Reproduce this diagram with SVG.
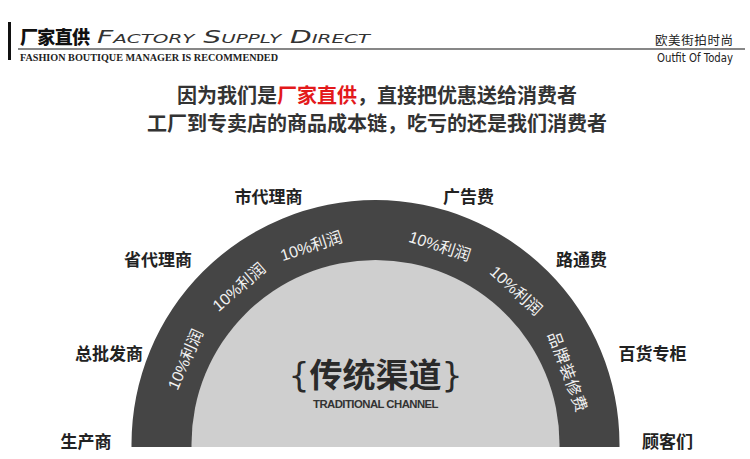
<svg xmlns="http://www.w3.org/2000/svg" width="750" height="459" viewBox="0 0 750 459">
<style>
.cjk{font-family:"Noto Sans CJK SC","Noto Sans",sans-serif}
.lab{font-family:"Noto Sans CJK SC",sans-serif;font-size:17px;font-weight:700;fill:#222;text-anchor:middle;dominant-baseline:central}
.arc{font-family:"Liberation Sans","Noto Sans CJK SC",sans-serif;font-size:16px;fill:#f2f2f2;text-anchor:middle;dominant-baseline:central}
.head{font-family:"Noto Sans CJK SC",sans-serif;font-size:20px;font-weight:700;fill:#333;text-anchor:middle}
</style>
<rect width="750" height="459" fill="#fff"/>
<g id="header">
<rect x="8" y="22" width="3" height="38" fill="#111"/>
<line x1="18" y1="49" x2="745" y2="49" stroke="#111" stroke-width="1.2"/>
<text x="20" y="44" class="cjk" font-size="18" font-weight="900" fill="#111" textLength="70">厂家直供</text>
<text x="97" y="43" font-family="DejaVu Sans,sans-serif" font-size="17" font-weight="200" font-style="italic" font-variant="small-caps" fill="#333" textLength="273" lengthAdjust="spacingAndGlyphs">Factory  Supply  Direct</text>
<text x="20" y="61" font-family="Liberation Serif,serif" font-size="9.5" font-weight="700" fill="#222" textLength="258" lengthAdjust="spacingAndGlyphs">FASHION BOUTIQUE MANAGER IS RECOMMENDED</text>
<text x="733" y="45" class="cjk" font-size="12.5" fill="#222" text-anchor="end" textLength="78" lengthAdjust="spacing">欧美街拍时尚</text>
<text x="733" y="62" font-family="DejaVu Sans,sans-serif" font-size="11.5" fill="#222" text-anchor="end" textLength="76" lengthAdjust="spacingAndGlyphs">Outfit Of Today</text>
</g>
<g id="headline">
<text x="377" y="103" class="head">因为我们是<tspan fill="#e3191b">厂家直供</tspan>，直接把优惠送给消费者</text>
<text x="377" y="131" class="head">工厂到专卖店的商品成本链，吃亏的还是我们消费者</text>
</g>
<g id="channel">
<path d="M131.5 447 L131.5 444 A244 244 0 0 1 619.5 444 L619.5 447 Z" fill="#454545"/>
<path d="M191.5 447 L191.5 444 A184 184 0 0 1 559.5 444 L559.5 447 Z" fill="#cfcfcf"/>
<g id="center-label">
<text x="375.5" y="387" text-anchor="middle" class="cjk" font-size="33" font-weight="700" fill="#2a2a2a"><tspan font-weight="400" font-family="DejaVu Sans,sans-serif">{</tspan>传统渠道<tspan font-weight="400" font-family="DejaVu Sans,sans-serif">}</tspan></text>
<text x="375.5" y="408" text-anchor="middle" font-family="Liberation Sans,sans-serif" font-size="10.5" font-weight="700" fill="#333" textLength="125" lengthAdjust="spacingAndGlyphs" letter-spacing="-0.5">TRADITIONAL CHANNEL</text>
</g>
<g id="band-labels">
<text class="arc" x="375.5" y="236" transform="rotate(-66 375.5 444)">10%利润</text>
<text class="arc" x="375.5" y="236" transform="rotate(-41 375.5 444)">10%利润</text>
<text class="arc" x="375.5" y="236" transform="rotate(-18 375.5 444)">10%利润</text>
<text class="arc" x="375.5" y="236" transform="rotate(18 375.5 444)">10%利润</text>
<text class="arc" x="375.5" y="236" transform="rotate(42.5 375.5 444)">10%利润</text>
<text class="arc" x="375.5" y="239" transform="rotate(69.5 375.5 444)" font-size="15" letter-spacing="1">品牌装修费</text>
</g>
</g>
<g id="n-sheng"><text class="lab" x="86" y="440">生产商</text></g>
<g id="n-zongpi"><text class="lab" x="109" y="352">总批发商</text></g>
<g id="n-shengdai"><text class="lab" x="158" y="258">省代理商</text></g>
<g id="n-shidai"><text class="lab" x="268.5" y="195">市代理商</text></g>
<g id="n-guanggao"><text class="lab" x="468.5" y="195">广告费</text></g>
<g id="n-lutong"><text class="lab" x="581.5" y="258">路通费</text></g>
<g id="n-baihuo"><text class="lab" x="652.5" y="352">百货专柜</text></g>
<g id="n-guke"><text class="lab" x="667.5" y="440">顾客们</text></g>
</svg>
